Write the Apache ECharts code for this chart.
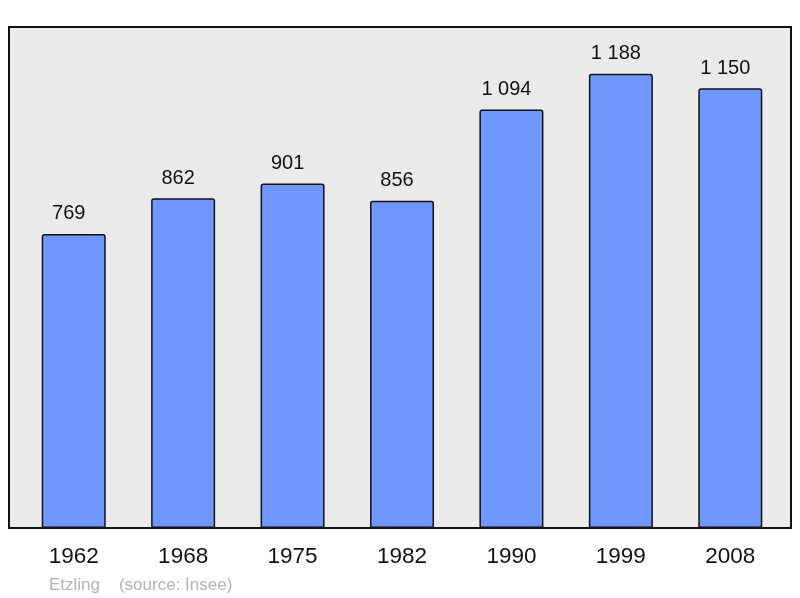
<!DOCTYPE html>
<html>
<head>
<meta charset="utf-8">
<script src="https://cdn.jsdelivr.net/npm/echarts@6/dist/echarts.min.js"></script>
<style>
  html, body { margin: 0; padding: 0; background: #fff; }
  #chart { width: 800px; height: 598px; }
</style>
</head>
<body>
<div id="chart"></div>
<script>
const years = ['1962', '1968', '1975', '1982', '1990', '1999', '2008'];
const population = [769, 862, 901, 856, 1094, 1188, 1150];

// 1 094 style thousands
const fmt = (v) => String(v).replace(/\B(?=(\d{3})+(?!\d))/g, ' ');

const chart = echarts.init(document.getElementById('chart'));

const option = {
  backgroundColor: '#fff',
  textStyle: { fontFamily: 'Liberation Sans, Arial, sans-serif' },
  grid: [
    // frame
    { left: 9, right: 9, top: 27, bottom: 70, show: true, backgroundColor: '#ebebeb', borderColor: '#111', borderWidth: 2 },
    // bars
    { left: 19, right: 15, top: 27, bottom: 70 }
  ],
  xAxis: [
    { gridIndex: 0, type: 'value', show: false },
    {
      gridIndex: 1,
      type: 'category',
      data: years,
      axisLine: { show: false },
      axisTick: { show: false },
      axisLabel: { color: '#111', fontSize: 22.5, margin: 17 }
    }
  ],
  yAxis: [
    { gridIndex: 0, type: 'value', show: false },
    {
      gridIndex: 1,
      type: 'value',
      min: 0,
      max: 1310,
      show: false,
      splitLine: { show: false }
    }
  ],
  series: [
    {
      type: 'bar',
      xAxisIndex: 1,
      yAxisIndex: 1,
      data: population,
      barWidth: 64,
      itemStyle: {
        color: '#7097ff',
        borderColor: '#111',
        borderWidth: 1.5,
        borderRadius: [2, 2, 0, 0]
      },
      label: {
        show: true,
        position: 'top',
        distance: 10,
        offset: [-5, 0],
        color: '#111',
        fontSize: 20,
        formatter: (p) => fmt(p.value)
      }
    }
  ],
  graphic: [
    {
      type: 'text',
      left: 49,
      top: 577,
      style: {
        text: 'Etzling    (source: Insee)',
        fill: '#b3b3b3',
        fontSize: 17,
        fontFamily: 'Liberation Sans, Arial, sans-serif'
      }
    }
  ]
};

chart.setOption(option);
</script>
</body>
</html>
